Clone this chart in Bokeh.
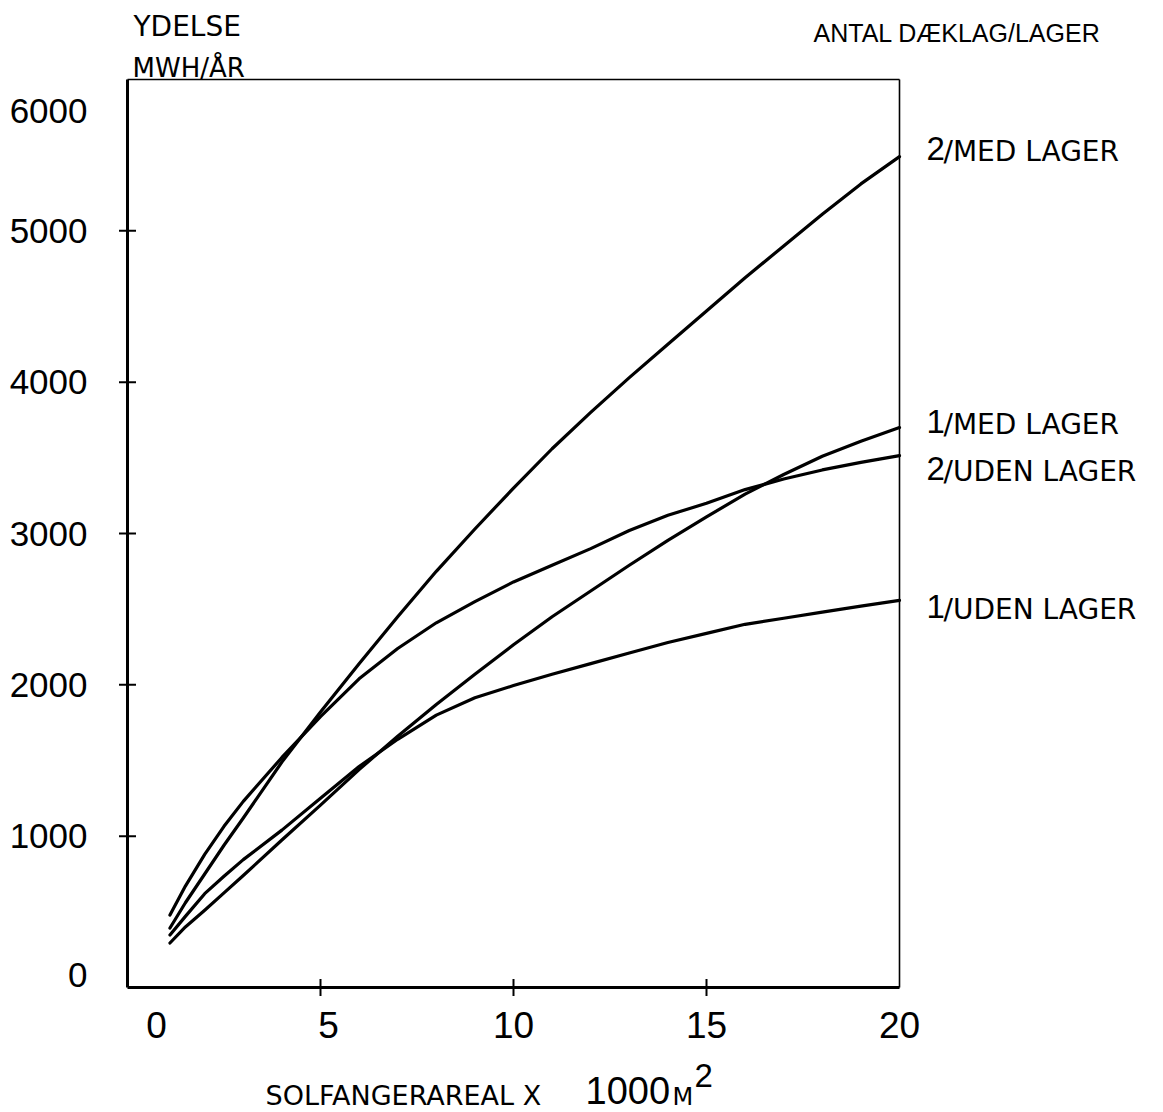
import math
from bokeh.plotting import figure
from bokeh.models import Range1d
from bokeh.core.properties import value
from bokeh.embed import file_html
from bokeh.resources import INLINE

# Solar collector area (x 1000 m2)
area = [1.1, 1.5, 2, 2.5, 3, 4, 5, 6, 7, 8, 9, 10, 11, 12, 13, 14, 15, 16, 17, 18, 19, 20]

# Annual yield, MWh/year, per number of cover layers / with or without storage
med_lager_2 = [393, 560, 750, 940, 1120, 1490, 1820, 2140, 2450, 2750, 3030, 3300,
               3560, 3800, 4030, 4250, 4470, 4690, 4900, 5110, 5310, 5490]
uden_lager_2 = [479, 670, 880, 1065, 1230, 1520, 1790, 2040, 2240, 2410, 2550, 2680,
                2790, 2900, 3020, 3120, 3200, 3290, 3360, 3420, 3470, 3515]
med_lager_1 = [294, 400, 510, 625, 740, 975, 1205, 1440, 1660, 1870, 2070, 2265,
               2450, 2620, 2790, 2955, 3110, 3260, 3390, 3510, 3610, 3700]
uden_lager_1 = [347, 470, 620, 735, 845, 1040, 1250, 1460, 1640, 1800, 1915, 1995,
                2070, 2140, 2210, 2280, 2340, 2400, 2440, 2480, 2520, 2558]

series_names = [("2", "/MED LAGER"), ("1", "/MED LAGER"),
                ("2", "/UDEN LAGER"), ("1", "/UDEN LAGER")]
series_values = [med_lager_2, med_lager_1, uden_lager_2, uden_lager_1]

x_ticks = [0, 5, 10, 15, 20]
y_ticks = [0, 1000, 2000, 3000, 4000, 5000, 6000]
x_lo, x_hi = 0, 20
y_lo, y_hi = 0, 6000

DIGITS = "Liberation Sans"
WIDE = "DejaVu Sans"

# page and plot-box geometry (pixels)
W, H = 1163, 1112
BOX_L, BOX_R, BOX_T, BOX_B = 127, 899, 79, 987
sx = (BOX_R - BOX_L) / (x_hi - x_lo)
sy = (BOX_B - BOX_T) / (y_hi - y_lo)

p = figure(width=W, height=H, output_backend="svg", toolbar_location=None,
           x_range=Range1d(x_lo - BOX_L / sx, x_hi + (W - BOX_R) / sx),
           y_range=Range1d(y_lo - (H - BOX_B) / sy, y_hi + BOX_T / sy),
           min_border=0, x_axis_location=None, y_axis_location=None)
p.background_fill_color = "white"
p.border_fill_color = "white"
p.outline_line_color = None
p.grid.visible = False

# plot box: heavy axis lines left and bottom, light lines top and right
p.line([x_lo, x_lo], [y_lo, y_hi], line_color="black", line_width=3)
p.line([x_lo, x_hi], [y_lo, y_lo], line_color="black", line_width=3)
p.line([x_lo, x_hi], [y_hi, y_hi], line_color="black", line_width=1.6)
p.line([x_hi, x_hi], [y_lo, y_hi], line_color="black", line_width=1.6)

# tick marks crossing the axes
inner_x = [t for t in x_ticks if x_lo < t < x_hi]
inner_y = [t for t in y_ticks if y_lo < t < y_hi]
p.scatter([x_lo] * len(inner_y), inner_y, marker="dash", size=17,
          line_color="black", line_width=2)
p.scatter(inner_x, [y_lo] * len(inner_x), marker="dash", size=17, angle=math.pi / 2,
          line_color="black", line_width=2)

for ys in series_values:
    p.line(area, ys, line_color="black", line_width=3.2, line_join="round",
           line_cap="round")


def put(x, y, text, dx, dy, font, size, align="left"):
    # dx: pixels to the right, dy: pixels downwards; text is centred vertically
    p.text(x=[x], y=[y], text=[text], x_offset=dx, y_offset=dy,
           text_font=value(font), text_font_size=value(size),
           text_align=align, text_baseline="middle", text_color="black")


# tick labels
for t in y_ticks:
    put(x_lo, t, str(t), -40, {0: -13, 6000: 31}.get(t, 0), DIGITS, "35px",
        align="right")
for t in x_ticks:
    put(t, y_lo, str(t), {0: 29, 5: 8}.get(t, 0), 37, DIGITS, "37px",
        align="center")

# series names at the right-hand end of each curve
name_shift = [-5, -3, 16, 9]
for (num, rest), ys, dy in zip(series_names, series_values, name_shift):
    put(x_hi, ys[-1], num, 27, dy - 3, DIGITS, "33px")
    put(x_hi, ys[-1], rest, 44, dy, WIDE, "28px")

# headings
put(x_hi, y_hi, "ANTAL DÆKLAG/LAGER", -86, -47, DIGITS, "25px")
put(x_lo, y_hi, "YDELSE", 6, -53, WIDE, "28px")
put(x_lo, y_hi, "MWH/ÅR", 5, -12, WIDE, "26px")

# x axis title
put(x_lo, y_lo, "SOLFANGERAREAL X", 138, 108, WIDE, "27px")
put(x_lo, y_lo, "1000", 458, 103, DIGITS, "38px")
put(x_lo, y_lo, "M", 545, 109, WIDE, "24px")
put(x_lo, y_lo, "2", 567, 88, DIGITS, "33px")

open("out.html", "w").write(file_html(p, INLINE))
